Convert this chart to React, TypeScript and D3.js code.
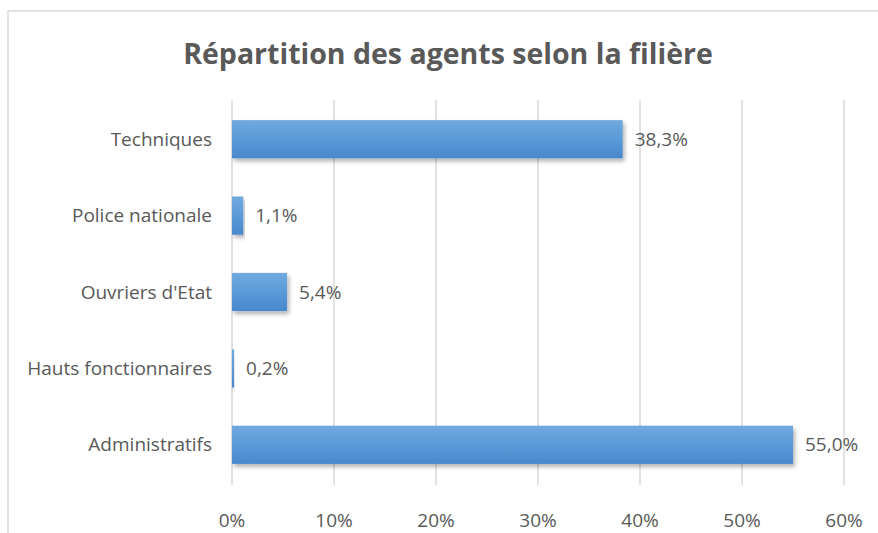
import React from "react";
import * as d3 from "d3";

const categories = ["Techniques", "Police nationale", "Ouvriers d'Etat", "Hauts fonctionnaires", "Administratifs"];
const values = [38.3, 1.1, 5.4, 0.2, 55.0];
const ticks = [0, 10, 20, 30, 40, 50, 60];

const W = 878, H = 533;
const FONT = "'Open Sans', sans-serif";

export default function App() {
  const x = d3.scaleLinear().domain([0, 60]).range([232, 844]);
  const y = d3.scaleBand<string>().domain(categories).range([101, 483]).paddingInner(0.5).paddingOuter(0.25);
  const fmt = (v: number) => v.toFixed(1).replace(".", ",") + "%";
  return (
    <svg width={W} height={H} style={{ position: "absolute", left: 0, top: 0, background: "#fff" }}>
      <defs>
        <linearGradient id="barGrad" x1="0" y1="0" x2="0" y2="1">
          <stop offset="0" stopColor="#72a9de" />
          <stop offset="0.5" stopColor="#5b9ad8" />
          <stop offset="1" stopColor="#4888cc" />
        </linearGradient>
        <filter id="shadow" x="-5%" y="-20%" width="115%" height="160%">
          <feDropShadow dx="2" dy="3" stdDeviation="2" floodColor="#000" floodOpacity="0.3" />
        </filter>
      </defs>
      <rect x={8} y={11} width={W} height={H} fill="#fff" stroke="#d9d9d9" strokeWidth={1.5} />
      <text x={448} y={64} textAnchor="middle" fontFamily={FONT} fontWeight={700} fontSize={28.5} fill="#595959">
        Répartition des agents selon la filière
      </text>
      {ticks.map((t) => (
        <g key={t}>
          <line x1={x(t)} x2={x(t)} y1={100} y2={485} stroke="#d9d9d9" strokeWidth={1.5} />
          <text x={x(t)} y={527} textAnchor="middle" fontFamily={FONT} fontSize={19} fill="#595959">
            {t}%
          </text>
        </g>
      ))}
      {categories.map((c, i) => {
        const yy = y(c)!;
        const bw = y.bandwidth();
        return (
          <g key={c}>
            <rect x={x(0)} y={yy} width={Math.max(1, x(values[i]) - x(0))} height={bw} fill="url(#barGrad)" filter="url(#shadow)" />
            <text x={212} y={yy + bw / 2} dy="0.35em" textAnchor="end" fontFamily={FONT} fontSize={19} fill="#595959">
              {c}
            </text>
            <text x={x(values[i]) + 12} y={yy + bw / 2} dy="0.35em" fontFamily={FONT} fontSize={19} fill="#595959">
              {fmt(values[i])}
            </text>
          </g>
        );
      })}
    </svg>
  );
}
